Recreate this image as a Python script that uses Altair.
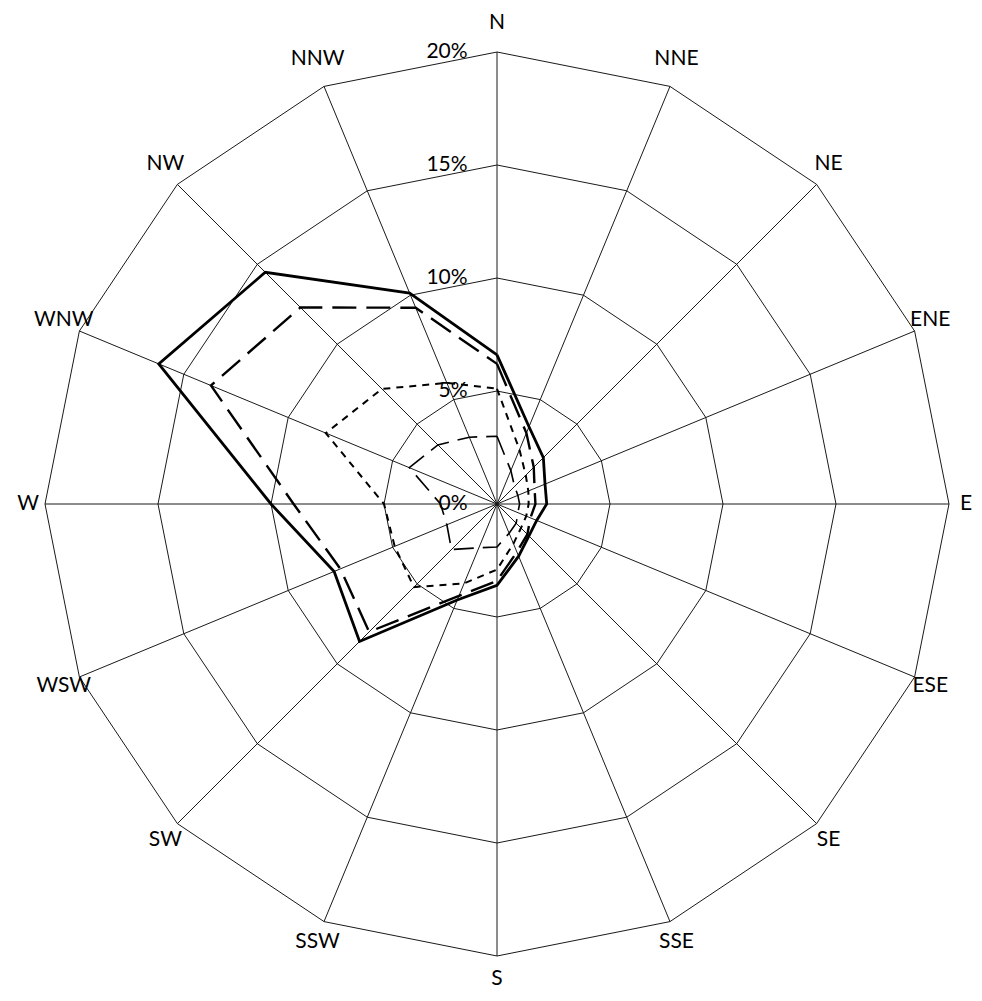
import altair as alt
import pandas as pd
import numpy as np

# ---- data ----
directions = ["N", "NNE", "NE", "ENE", "E", "ESE", "SE", "SSE",
              "S", "SSW", "SW", "WSW", "W", "WNW", "NW", "NNW"]
# percent frequency per direction, four series
series_solid = [6.6, 3.7, 2.9, 2.3, 2.2, 1.9, 2.0, 2.5, 3.6, 4.6, 8.6, 7.8, 10.0, 16.2, 14.5, 10.1]
series_longdash = [6.2, 3.4, 2.3, 1.8, 1.7, 1.6, 1.9, 2.3, 3.4, 4.4, 8.0, 7.5, 9.0, 13.7, 12.3, 9.4]
series_shortdash = [5.1, 2.6, 1.8, 1.5, 1.4, 1.4, 1.5, 1.9, 2.9, 3.8, 5.2, 4.9, 5.0, 8.2, 7.2, 5.8]
series_inner = [3.0, 1.6, 1.1, 1.0, 1.0, 1.0, 1.2, 1.4, 1.9, 2.1, 2.85, 2.4, 2.5, 4.2, 3.7, 3.2]
ring_levels = [5, 10, 15, 20]
ring_tick_values = [0, 5, 10, 15, 20]
ring_tick_labels = ["0%", "5%", "10%", "15%", "20%"]

# ---- geometry helpers (polar -> cartesian in percent units) ----
step = 360.0 / len(directions)


def polygon(values, name):
    rows = []
    closed = list(values) + [values[0]]
    for i, v in enumerate(closed):
        a = np.deg2rad(step * i)
        rows.append({"series": name, "idx": i, "x": v * np.sin(a), "y": v * np.cos(a)})
    return rows


line_rows = []
for nm, vals in [("solid", series_solid), ("longdash", series_longdash),
                 ("shortdash", series_shortdash), ("inner", series_inner)]:
    line_rows += polygon(vals, nm)
lines_df = pd.DataFrame(line_rows)

ring_rows = []
for lv in ring_levels:
    ring_rows += polygon([lv] * len(directions), f"r{lv}")
rings_df = pd.DataFrame(ring_rows)

spoke_df = pd.DataFrame({
    "dir": directions,
    "x0": [0.0] * len(directions),
    "y0": [0.0] * len(directions),
    "x1": [20 * np.sin(np.deg2rad(step * i)) for i in range(len(directions))],
    "y1": [20 * np.cos(np.deg2rad(step * i)) for i in range(len(directions))],
})

# label placement radii (percent units)
label_rx = 20.75
label_ry_north = 21.3
label_ry_south = 21.0
lab_x, lab_y = [], []
for i in range(len(directions)):
    a = np.deg2rad(step * i)
    c = np.cos(a)
    lab_x.append(label_rx * np.sin(a))
    lab_y.append((label_ry_north if c >= 0 else label_ry_south) * c)
dir_df = pd.DataFrame({"dir": directions, "x": lab_x, "y": lab_y})

tick_df = pd.DataFrame({
    "label": ring_tick_labels,
    "y": ring_tick_values,
    "x": [-1.3] * len(ring_tick_values),
})

# ---- scales: 22.6 px per percent ----
W, H = 966, 985
cx, cy = 489, 496
ppu = 22.6
xs = alt.Scale(domain=[-cx / ppu, (W - cx) / ppu], nice=False, zero=False)
ys = alt.Scale(domain=[-(H - cy) / ppu, cy / ppu], nice=False, zero=False)

FONT = "Lato"
FS = 21

rings = alt.Chart(rings_df).mark_line(color="#1a1a1a", strokeWidth=1).encode(
    x=alt.X("x:Q", scale=xs, axis=None),
    y=alt.Y("y:Q", scale=ys, axis=None),
    detail="series:N",
    order="idx:Q",
)

spokes = alt.Chart(spoke_df).mark_rule(color="#1a1a1a", strokeWidth=1).encode(
    x=alt.X("x0:Q", scale=xs, axis=None),
    y=alt.Y("y0:Q", scale=ys, axis=None),
    x2="x1:Q",
    y2="y1:Q",
)

styles = {
    "solid": dict(strokeWidth=2.8),
    "longdash": dict(strokeWidth=2.4, strokeDash=[24, 10]),
    "shortdash": dict(strokeWidth=2.0, strokeDash=[7, 6]),
    "inner": dict(strokeWidth=1.6, strokeDash=[20, 9]),
}

series_layers = []
for nm, st in styles.items():
    series_layers.append(
        alt.Chart(lines_df).transform_filter(alt.datum.series == nm)
        .mark_line(color="black", strokeJoin="miter", **st)
        .encode(
            x=alt.X("x:Q", scale=xs, axis=None),
            y=alt.Y("y:Q", scale=ys, axis=None),
            order="idx:Q",
        )
    )

dir_labels = alt.Chart(dir_df).mark_text(
    font=FONT, fontSize=FS, color="black", align="center", baseline="middle"
).encode(
    x=alt.X("x:Q", scale=xs, axis=None),
    y=alt.Y("y:Q", scale=ys, axis=None),
    text="dir:N",
)

tick_labels = alt.Chart(tick_df).mark_text(
    font=FONT, fontSize=FS, color="black", align="right", baseline="middle"
).encode(
    x=alt.X("x:Q", scale=xs, axis=None),
    y=alt.Y("y:Q", scale=ys, axis=None),
    text="label:N",
)

chart = alt.layer(rings, spokes, *series_layers, dir_labels, tick_labels).properties(
    width=W, height=H, padding=0,
    autosize=alt.AutoSizeParams(type="none"),
    background="white",
).configure_view(stroke=None)

chart.save("out.html", embed_options={"renderer": "svg", "actions": False})
